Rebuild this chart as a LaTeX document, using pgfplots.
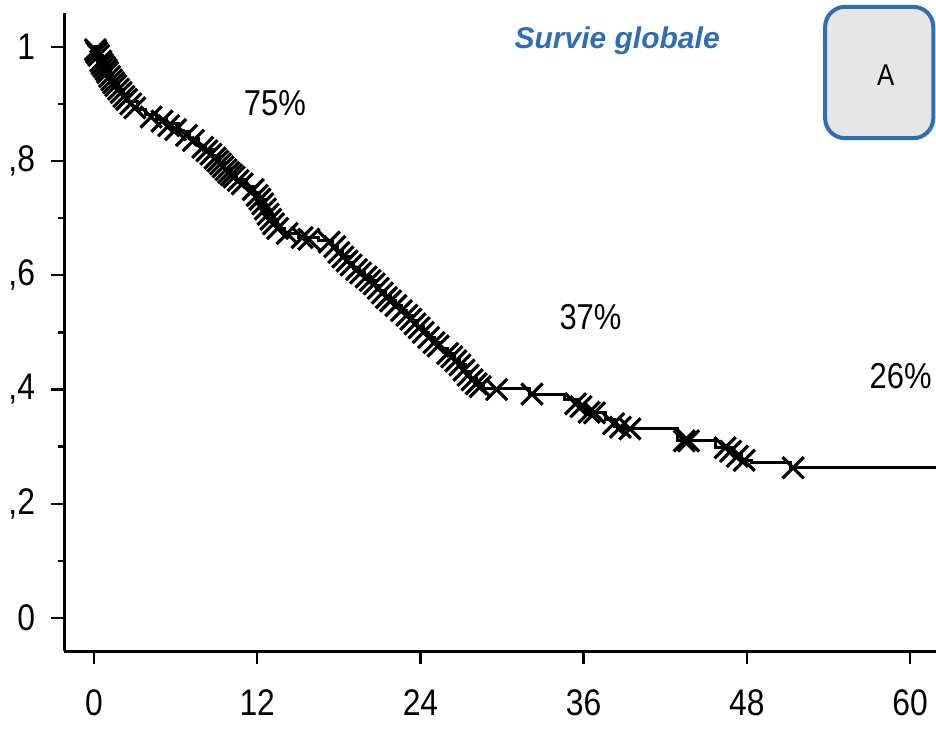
\documentclass[border=0pt]{standalone}
\usepackage{pgfplots}
\pgfplotsset{compat=1.18}
\usepackage{fontspec}
\setmainfont{Liberation Sans}
\newfontfamily\narrowfont{Liberation Sans}[FakeStretch=0.86]
\definecolor{sblue}{RGB}{49,110,176}
\definecolor{boxgray}{RGB}{230,230,230}
\pgfplotstableread{
t s
0 1.0
0.3 0.985
0.6 0.97
0.9 0.96
1.2 0.946
1.5 0.935
1.8 0.926
2.1 0.916
2.5 0.905
3.2 0.89
3.8 0.882
4.6 0.873
5.3 0.865
6.2 0.852
7.0 0.84
7.7 0.828
8.2 0.82
8.7 0.81
9.2 0.798
9.6 0.787
10.0 0.778
10.5 0.768
11.2 0.755
11.8 0.745
12.2 0.733
12.5 0.72
12.8 0.707
13.1 0.694
13.5 0.682
14.0 0.673
15.0 0.667
16.5 0.661
17.5 0.652
17.9 0.642
18.3 0.632
18.7 0.622
19.1 0.612
19.5 0.605
19.9 0.598
20.3 0.591
20.7 0.582
21.0 0.574
21.4 0.563
21.8 0.555
22.2 0.547
22.6 0.538
23.0 0.53
23.4 0.52
23.8 0.51
24.2 0.5
24.6 0.491
25.0 0.482
25.5 0.472
26.0 0.463
26.5 0.452
26.9 0.443
27.3 0.431
27.7 0.42
28.1 0.41
28.6 0.402
32.0 0.392
34.6 0.382
35.6 0.37
36.3 0.36
37.6 0.347
38.3 0.336
39.0 0.331
42.9 0.31
45.7 0.298
47.0 0.286
47.6 0.276
48.3 0.273
51.2 0.263
61.9 0.263
}\kmcurve
\pgfplotstableread{
t s
0.1 0.995
0.2 0.99
0.35 0.985
0.5 0.975
0.6 0.97
0.75 0.965
0.9 0.96
1.0 0.955
1.15 0.948
1.3 0.942
1.45 0.937
1.6 0.932
1.8 0.926
2.0 0.92
2.2 0.913
2.4 0.908
2.7 0.9
3.0 0.893
4.2 0.877
5.0 0.87
5.5 0.862
6.0 0.855
6.8 0.845
7.3 0.836
8.0 0.824
8.3 0.818
8.6 0.812
8.9 0.805
9.1 0.8
9.3 0.795
9.5 0.79
9.7 0.785
9.9 0.78
10.1 0.776
10.3 0.772
10.6 0.766
10.9 0.76
11.7 0.75
12.0 0.74
12.2 0.733
12.4 0.725
12.6 0.716
12.8 0.707
13.0 0.698
13.2 0.69
13.5 0.682
14.2 0.673
15.3 0.666
15.8 0.663
17.3 0.658
17.7 0.65
18.0 0.64
18.3 0.632
18.6 0.625
18.9 0.618
19.3 0.61
19.6 0.604
20.0 0.597
20.3 0.591
20.6 0.585
20.9 0.577
21.2 0.569
21.5 0.561
21.8 0.555
22.2 0.547
22.6 0.538
23.0 0.53
23.3 0.523
23.6 0.515
23.9 0.508
24.2 0.5
24.6 0.491
25.0 0.482
25.3 0.476
26.0 0.463
26.3 0.457
26.6 0.45
26.9 0.443
27.2 0.434
27.5 0.425
27.8 0.417
28.1 0.41
28.4 0.405
29.6 0.40
32.2 0.392
35.4 0.375
35.8 0.37
36.4 0.36
36.8 0.359
38.2 0.34
38.7 0.334
39.4 0.331
43.4 0.31
43.7 0.31
46.4 0.298
46.8 0.292
47.3 0.283
47.8 0.276
51.4 0.263
}\censored
\begin{document}
\begin{tikzpicture}
\begin{axis}[
 scale only axis, width=435.9pt, height=319.2pt,
 xmin=-2.2, xmax=61.9, ymin=-0.058, ymax=1.06,
 axis x line*=bottom, axis y line*=left,
 axis line style={line width=1.5pt},
 xtick={0,12,24,36,48,60}, xticklabels={0,12,24,36,48,60},
 ytick={0,0.2,0.4,0.6,0.8,1}, yticklabels={0,{,2},{,4},{,6},{,8},1},
 minor ytick={0.1,0.3,0.5,0.7,0.9},
 tick align=outside,
 major tick length=6.5pt, minor tick length=3pt,
 tick style={line width=1.2pt, black},
 ticklabel style={font=\narrowfont\fontsize{18.5}{22}\selectfont},
 xticklabel style={yshift=-9.5pt},
 yticklabel style={xshift=-4.5pt},
 clip=false,
]
\addplot[const plot, line width=1.5pt, black, mark=none] table[x=t,y=s] {\kmcurve};
\addplot[only marks, black, mark=x, mark size=7.5pt, mark options={line width=1.6pt}] table[x=t,y=s] {\censored};
\node[font=\narrowfont\fontsize{18}{21}\selectfont] at (axis cs:13.3,0.902) {75\%};
\node[font=\narrowfont\fontsize{18}{21}\selectfont] at (axis cs:36.5,0.527) {37\%};
\node[font=\narrowfont\fontsize{18}{21}\selectfont] at (axis cs:59.3,0.424) {26\%};
\node[font=\fontsize{15}{18}\selectfont\bfseries\itshape, text=sblue] at (axis cs:38.46,1.01) {Survie globale};
\draw[sblue, line width=2pt, fill=boxgray, rounded corners=10pt] (axis cs:53.75,1.07) rectangle (axis cs:61.7,0.84);
\node[font=\narrowfont\fontsize{15}{18}\selectfont] at (axis cs:58.2,0.951) {A};
\coordinate (bbtl) at (axis cs:-6.91,1.082);
\coordinate (bbbr) at (axis cs:61.9,-0.194);
\end{axis}
\pgfresetboundingbox
\path[use as bounding box] (bbtl) rectangle (bbbr);
\end{tikzpicture}
\end{document}
